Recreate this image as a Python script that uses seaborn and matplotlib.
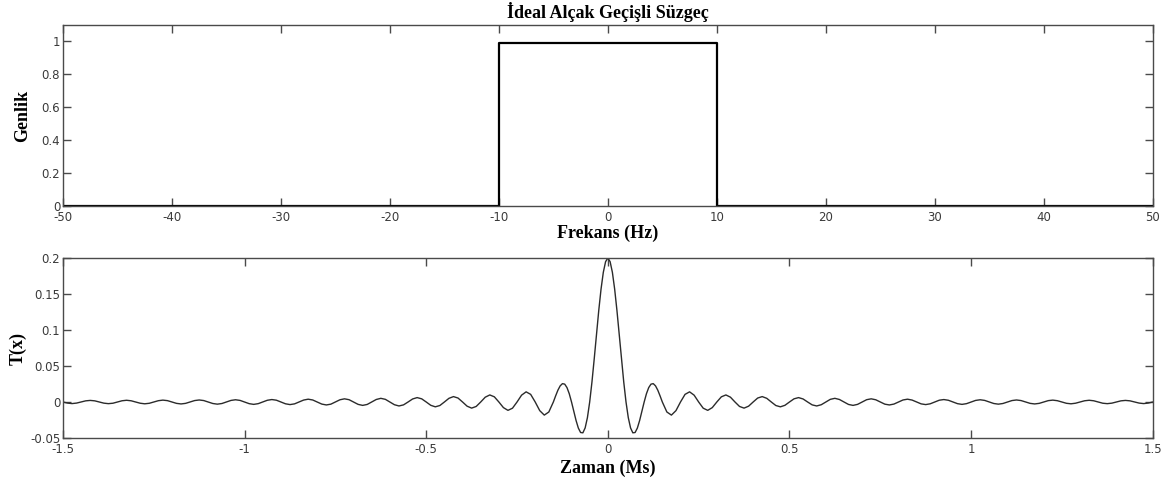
import matplotlib
matplotlib.use("Agg")
import matplotlib.pyplot as plt
import seaborn as sns
import numpy as np
import pandas as pd

#%% data
# ideal low-pass filter (frequency domain)
freq_hz = [-50, -10, -10, 10, 10, 50]
gain = [0, 0, 0.99, 0.99, 0, 0]

# impulse response, one side (t >= 0); the curve is symmetric around t = 0
# main lobe region 0 .. 0.15 Ms, read every 0.00625 Ms
fine_step = 0.00625
impulse_center = [
    0.2000, 0.1949, 0.1801, 0.1568, 0.1273, 0.0941, 0.0600, 0.0278, 0.0, -0.0217,
    -0.0360, -0.0428, -0.0424, -0.0362, -0.0257, -0.0130, 0.0, 0.0115, 0.0200, 0.0248,
    0.0255, 0.0224, 0.0164, 0.0085, 0.0,
]
# tail region after 0.15 Ms, read every 0.0125 Ms up to 1.5
coarse_step = 0.0125
impulse_tail = [
    -0.0139, -0.0182, -0.0120, 0.0, 0.0106, 0.0141, 0.0095,
    0.0, -0.0086, -0.0116, -0.0078, 0.0, 0.0072, 0.0098, 0.0067, 0.0, -0.0062,
    -0.0085, -0.0058, 0.0, 0.0055, 0.0075, 0.0051, 0.0, -0.0049, -0.0067, -0.0046,
    0.0, 0.0044, 0.0061, 0.0042, 0.0, -0.0040, -0.0055, -0.0038, 0.0, 0.0037,
    0.0051, 0.0035, 0.0, -0.0034, -0.0047, -0.0033, 0.0, 0.0032, 0.0044, 0.0031,
    0.0, -0.0030, -0.0041, -0.0029, 0.0, 0.0028, 0.0039, 0.0027, 0.0, -0.0026,
    -0.0036, -0.0025, 0.0, 0.0025, 0.0034, 0.0024, 0.0, -0.0023, -0.0033, -0.0023,
    0.0, 0.0022, 0.0031, 0.0022, 0.0, -0.0021, -0.0030, -0.0021, 0.0, 0.0020,
    0.0028, 0.0020, 0.0, -0.0019, -0.0027, -0.0019, 0.0, 0.0019, 0.0026, 0.0018,
    0.0, -0.0018, -0.0025, -0.0017, 0.0, 0.0017, 0.0024, 0.0017, 0.0, -0.0017,
    -0.0023, -0.0016, 0.0, 0.0016, 0.0022, 0.0016, 0.0, -0.0015, -0.0022, -0.0015,
    0.0,
]

# ticks
top_xticks = [-50, -40, -30, -20, -10, 0, 10, 20, 30, 40, 50]
top_yticks = [0, 0.2, 0.4, 0.6, 0.8, 1]
top_ylabels = ["0", "0.2", "0.4", "0.6", "0.8", "1"]
bot_xticks = [-1.5, -1, -0.5, 0, 0.5, 1, 1.5]
bot_xlabels = ["-1.5", "-1", "-0.5", "0", "0.5", "1", "1.5"]
bot_yticks = [-0.05, 0, 0.05, 0.1, 0.15, 0.2]
bot_ylabels = ["-0.05", "0", "0.05", "0.1", "0.15", "0.2"]

#%% build tables
df_filter = pd.DataFrame({"freq": freq_hz, "gain": gain})

t_center = np.arange(len(impulse_center)) * fine_step
t_tail = t_center[-1] + np.arange(1, len(impulse_tail) + 1) * coarse_step
t_pos = np.concatenate([t_center, t_tail])
y_pos = np.array(impulse_center + impulse_tail)
t_full = np.concatenate([-t_pos[:0:-1], t_pos])
y_full = np.concatenate([y_pos[:0:-1], y_pos])
df_imp = pd.DataFrame({"t": t_full, "T": y_full})

#%% style
sns.set_theme(style="ticks")
plt.rcParams["font.family"] = ["DejaVu Sans"]

serif = ["Liberation Serif", "DejaVu Serif"]
label_font = dict(family=serif, fontsize=13, fontweight="bold", color="black")
tick_color = "#3a3a3a"
spine_color = "#4a4a4a"

fig = plt.figure(figsize=(11.73, 4.82), dpi=100)
ax1 = fig.add_axes([0.0537, 0.5726, 0.929, 0.3755])
ax2 = fig.add_axes([0.0537, 0.0913, 0.929, 0.3734])

#%% top: ideal low-pass filter
sns.lineplot(data=df_filter, x="freq", y="gain", ax=ax1, color="black",
             linewidth=1.6, estimator=None, sort=False)
ax1.set_xlim(-50, 50)
ax1.set_ylim(0, 1.1)
ax1.set_xticks(top_xticks)
ax1.set_xticklabels([str(v) for v in top_xticks])
ax1.set_yticks(top_yticks)
ax1.set_yticklabels(top_ylabels)
ax1.set_title("İdeal Alçak Geçişli Süzgeç", pad=5, **label_font)
ax1.set_xlabel("Frekans (Hz)", **label_font)
ax1.set_ylabel("Genlik", **label_font)
ax1.xaxis.set_label_coords(0.5, -0.105)
ax1.xaxis.label.set_va("top")
ax1.yaxis.set_label_coords(-0.029, 0.5)

#%% bottom: impulse response
sns.lineplot(data=df_imp, x="t", y="T", ax=ax2, color="#2b2b2b",
             linewidth=1.0, estimator=None, sort=False)
ax2.set_xlim(-1.5, 1.5)
ax2.set_ylim(-0.05, 0.2)
ax2.set_xticks(bot_xticks)
ax2.set_xticklabels(bot_xlabels)
ax2.set_yticks(bot_yticks)
ax2.set_yticklabels(bot_ylabels)
ax2.set_xlabel("Zaman (Ms)", **label_font)
ax2.set_ylabel("T(x)", **label_font)
ax2.xaxis.set_label_coords(0.5, -0.122)
ax2.xaxis.label.set_va("top")
ax2.yaxis.set_label_coords(-0.033, 0.5)

for ax in (ax1, ax2):
    ax.grid(False)
    ax.tick_params(direction="in", top=True, right=True, length=5.5,
                   width=1.0, color=spine_color, labelsize=8.5,
                   labelcolor=tick_color)
    ax.tick_params(axis="x", pad=3.5)
    ax.tick_params(axis="y", pad=2)
    for sp in ax.spines.values():
        sp.set_visible(True)
        sp.set_color(spine_color)
        sp.set_linewidth(1.0)

fig.savefig("out.png", dpi=100)
